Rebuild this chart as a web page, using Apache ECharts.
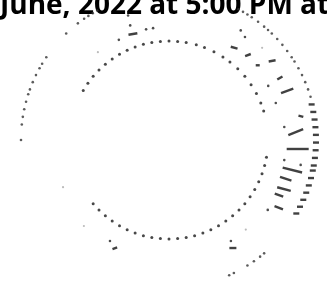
<!DOCTYPE html>
<html><head><meta charset="utf-8">
<script src="https://cdn.jsdelivr.net/npm/echarts@6/dist/echarts.min.js"></script>
<style>html,body{margin:0;padding:0;background:#fff}#c{width:327px;height:285px}</style>
</head><body><div id="c"></div>
<script>
// ---- data (bearing in degrees clockwise from north, radius in chart units) ----
const titleText = 'June, 2022 at 5:00 PM at';

const innerRingRadius = 99;
const innerRingBearings = [300,305,310,315,320,325,330,335,340,345,350,355,0,5,10,16,21,27,33,38,44,50,56,62,68,73,
  100,105,110,115,120,125,130,135,140,145,150,155,160,165,170,175,180,185,190,195,200,205,210,215,220,225,230];

const outerRingRadius = 148;
const outerRingBearings = [270,276,279,282,285,288,290,293,296,299,301,304,316,322,325,327,329,331,
  28,30,32,34,37,40,42,44,47,50,53,56,58,61,64,67,70,73,140,142,145,148,154,156];
const outerRingDashBearings = [76,79,82,85,88,91,94,97,100,102,105,108,111,114,117,120];

const midDotRadius  = [128,131,113,113,116,117,134,121,118.5,117,113,113,112,121,131];
const midDotBearing = [36.4,33.2,61.4,70.9,83.6,99.9,100.7,125.3,148.5,210.3,348.3,351.9,333.4,341.3,341.8];
const faintDotRadius  = [131,116,121,118,113];
const faintDotBearing = [45.3,246,224.7,139.4,321];

const dashRadius  = [113,116,116,130,127,128,134,127,129,127,123,125,123,129,125.5,121,112];
const dashBearing = [35.2,42.9,49.9,52.5,60.8,67.4,79.8,86.4,94,103.7,108.4,113.1,116.6,121.7,149.4,206.6,341.2];
const dashLength  = [7,6,4,7,6,13,5,16,22,20,12,14,9,9,7,5,9];
const dashTilt    = [-15,20,0,10,30,20,-15,22,0,-14,-18,-15,-20,-20,0,20,10];

// ---- chart ----
const chart = echarts.init(document.getElementById('c'), null, {renderer:'canvas'});
const dot = (r, b) => [r, b];
const option = {
  animation: false,
  backgroundColor: '#ffffff',
  polar: { center: [169, 140], radius: 148 },
  radiusAxis: { type: 'value', min: 0, max: 148, show: false },
  angleAxis: { type: 'value', min: 0, max: 360, startAngle: 90, clockwise: true, show: false },
  graphic: [{
    type: 'text', x: 0, y: 6,
    style: { text: titleText, font: 'bold 28px "Open Sans"', fill: '#000', align: 'left', verticalAlign: 'middle' }
  }],
  series: [
    { type: 'scatter', coordinateSystem: 'polar', symbol: 'circle', symbolSize: 3,
      itemStyle: { color: '#1a1a1a' }, data: innerRingBearings.map(b => dot(innerRingRadius, b)) },
    { type: 'scatter', coordinateSystem: 'polar', symbol: 'circle', symbolSize: 2.6,
      itemStyle: { color: '#333' }, data: outerRingBearings.map(b => dot(outerRingRadius, b)) },
    { type: 'scatter', coordinateSystem: 'polar', symbol: 'rect', symbolSize: [6, 2.4],
      itemStyle: { color: '#111' }, data: outerRingDashBearings.map(b => dot(outerRingRadius - 1, b)) },
    { type: 'scatter', coordinateSystem: 'polar', symbol: 'circle', symbolSize: 2.6,
      itemStyle: { color: '#222' }, data: midDotBearing.map((b, i) => dot(midDotRadius[i], b)) },
    { type: 'scatter', coordinateSystem: 'polar', symbol: 'circle', symbolSize: 2.2,
      itemStyle: { color: '#aaa' }, data: faintDotBearing.map((b, i) => dot(faintDotRadius[i], b)) },
    { type: 'scatter', coordinateSystem: 'polar', symbol: 'rect',
      itemStyle: { color: '#111' },
      data: dashBearing.map((b, i) => ({ value: dot(dashRadius[i], b), symbolSize: [dashLength[i], 2.4], symbolRotate: dashTilt[i] })) }
  ]
};
chart.setOption(option);
</script>
</body></html>
